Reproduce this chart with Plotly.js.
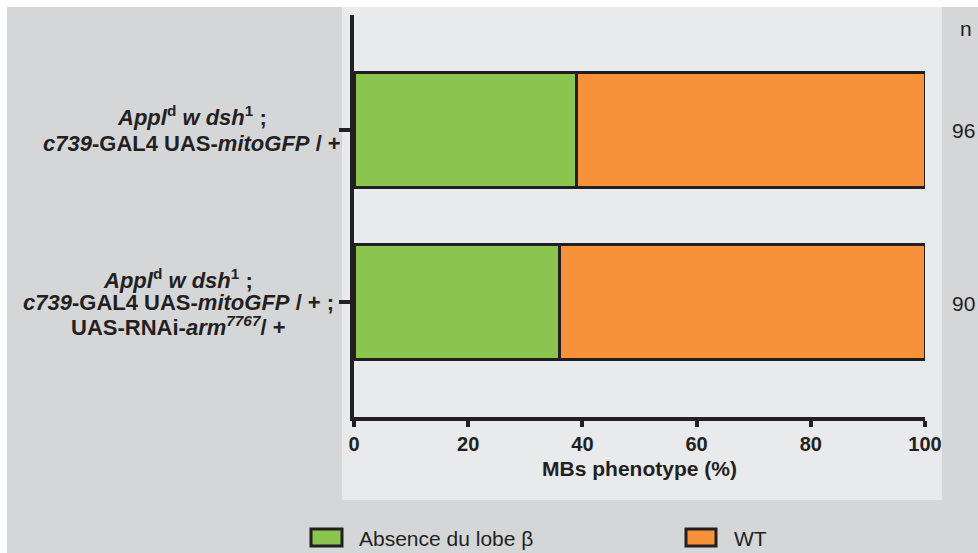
<!DOCTYPE html>
<html>
<head>
<meta charset="utf-8">
<script src="https://cdn.plot.ly/plotly-3.0.1.min.js"></script>
<style>html,body{margin:0;padding:0;background:#fff;}#chart{width:978px;height:553px;}</style>
</head>
<body>
<div id="chart"></div>
<script>
// ---- data ----
const genotypes = ["genotype1", "genotype2"];
const labelLines = [
  ["<i>Appl</i><sup>d</sup> <i>w dsh</i><sup>1</sup> ;", "<i>c739</i>-GAL4 UAS-<i>mitoGFP</i> / +"],
  ["<i>Appl</i><sup>d</sup> <i>w dsh</i><sup>1</sup> ;", "<i>c739</i>-GAL4 UAS-<i>mitoGFP</i> / + ;", "UAS-RNAi-<i>arm<sup>7767</sup></i>/ +"]
];
const seriesNames = ["Absence du lobe β", "WT"];
const absenceValues = [39, 36];
const wtValues = [61, 64];
const nValues = [96, 90];
const nHeader = "n";
const xTicks = [0, 20, 40, 60, 80, 100];
const xTitle = "MBs phenotype (%)";

// ---- layout helpers (pixel -> paper) ----
const W = 978, H = 553, L = 354, R = 53, T = 15, B = 136;
const PW = W - L - R, PH = H - T - B;
const px = p => (p - L) / PW;
const py = p => 1 - (p - T) / PH;

const ink = "#231f20";
const green = "#8bc550", orange = "#f7923a";
const FONT = "Liberation Sans, Arial, Helvetica, sans-serif";

const traces = [
  {type: "bar", orientation: "h", x: absenceValues, y: genotypes, name: seriesNames[0],
   marker: {color: green, line: {color: ink, width: 3}}, width: 0.665, hoverinfo: "x"},
  {type: "bar", orientation: "h", x: wtValues, y: genotypes, name: seriesNames[1],
   marker: {color: orange, line: {color: ink, width: 3}}, width: 0.665, hoverinfo: "x"}
];

const labelCenters = [192, 178];
const lineSpacing = [28, 23.5];
const annotations = [];
labelLines.forEach((lines, gi) => {
  const n = lines.length;
  lines.forEach((ln, li) => {
    annotations.push({
      xref: "paper", yref: "y", x: px(labelCenters[gi]), y: genotypes[gi],
      xanchor: "center", yanchor: "middle", showarrow: false,
      yshift: -(li - (n - 1) / 2) * lineSpacing[gi],
      text: "<b>" + ln + "</b>", font: {family: FONT, size: 22, color: ink}
    });
  });
});
annotations.push({xref: "paper", yref: "paper", x: px(966), y: py(28), xanchor: "center", yanchor: "middle",
  showarrow: false, text: nHeader, font: {family: FONT, size: 21, color: ink}});
nValues.forEach((v, i) => annotations.push({xref: "paper", yref: "y", x: px(963), y: genotypes[i],
  xanchor: "center", yanchor: "middle", showarrow: false, yshift: -1,
  text: String(v), font: {family: FONT, size: 21, color: ink}}));

// legend
const legBoxes = [[311, 342], [686, 716]];
const legText = [357, 732];
const legColors = [green, orange];
const shapes = [
  {type: "rect", xref: "paper", yref: "paper", x0: px(7), x1: px(W + 2), y0: py(7), y1: py(H + 2),
   fillcolor: "#d5d6d8", line: {width: 0}, layer: "below"},
  {type: "rect", xref: "paper", yref: "paper", x0: px(342), x1: px(942), y0: py(7), y1: py(500),
   fillcolor: "#e9eaec", line: {width: 0}, layer: "below"}
];
seriesNames.forEach((nm, i) => {
  shapes.push({type: "rect", xref: "paper", yref: "paper", x0: px(legBoxes[i][0]), x1: px(legBoxes[i][1]),
    y0: py(529), y1: py(546), fillcolor: legColors[i], line: {color: ink, width: 3}});
  annotations.push({xref: "paper", yref: "paper", x: px(legText[i]), y: py(538), xanchor: "left", yanchor: "middle",
    showarrow: false, text: nm, font: {family: FONT, size: 21, color: ink}});
});

const layout = {
  width: W, height: H,
  margin: {l: L, r: R, t: T, b: B, pad: 0},
  paper_bgcolor: "#ffffff", plot_bgcolor: "rgba(0,0,0,0)",
  barmode: "stack", showlegend: false,
  font: {family: FONT, color: ink},
  xaxis: {range: [0, 100], tickvals: xTicks, ticktext: xTicks.map(String),
    showgrid: false, zeroline: false, showline: true, linecolor: ink, linewidth: 4,
    ticks: "outside", ticklen: 6, tickwidth: 4, tickcolor: ink,
    tickfont: {family: FONT, size: 20, color: ink, weight: "bold"},
    title: {text: "<b>" + xTitle + "</b>", font: {family: FONT, size: 21, color: ink}, standoff: 8}},
  yaxis: {type: "category", categoryorder: "array", categoryarray: genotypes,
    range: [1.665, -0.665], showgrid: false, zeroline: false, showline: true, linecolor: ink, linewidth: 4,
    ticks: "outside", ticklen: 11, tickwidth: 4, tickcolor: ink, showticklabels: false},
  shapes: shapes, annotations: annotations
};

Plotly.newPlot("chart", traces, layout, {displayModeBar: false, staticPlot: true});
</script>
</body>
</html>
